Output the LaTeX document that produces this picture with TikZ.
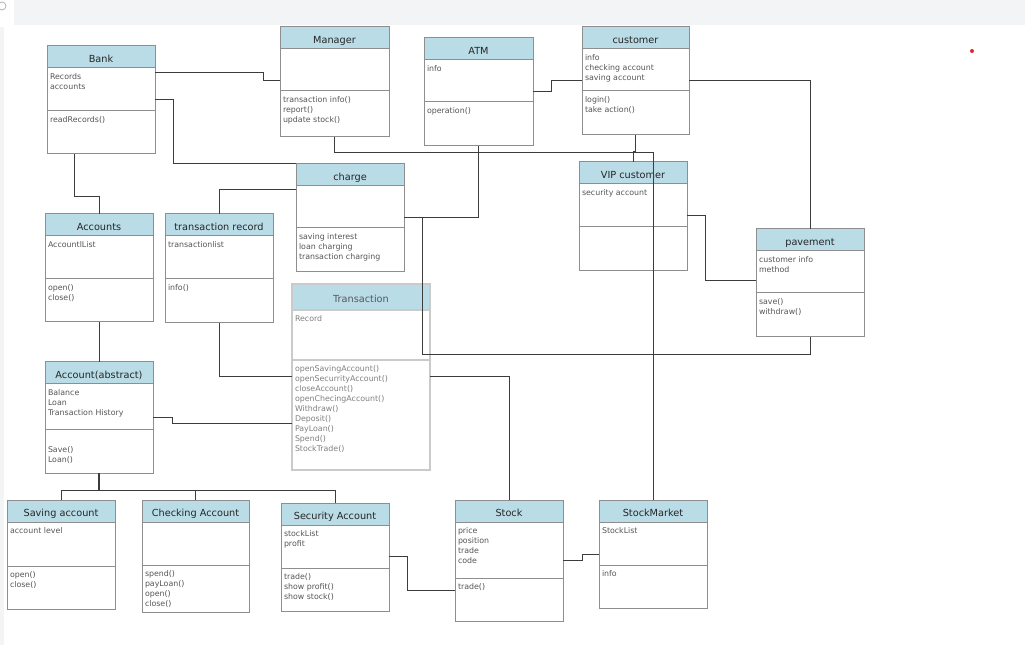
\documentclass[tikz,border=0pt]{standalone}
\usepackage{fontspec}
\setmainfont{DejaVu Sans}
\definecolor{headblue}{HTML}{B9DCE7}
\definecolor{boxgray}{HTML}{8E8E8E}
\definecolor{textgray}{HTML}{555555}
\definecolor{linegray}{HTML}{3C3C3C}
\definecolor{barback}{HTML}{F3F4F6}
\definecolor{fadegray}{HTML}{CACACA}
\definecolor{dotred}{HTML}{E0282A}
\newcommand{\pxu}{0.75pt}
% one class: name, top left, width, attribute height, method height, title, attributes, methods
\newcommand{\umlclass}[8]{%
  \node[classhead, minimum width=#3*\pxu] (#1) at (#2) {#6};
  \node[classpart, minimum width=#3*\pxu, minimum height=#4*\pxu] (#1-a) at (#1.south west)
    {\parbox[t][\dimexpr\pxu*(#4-12)\relax][t]{\dimexpr\pxu*(#3-6)\relax}{#7}};
  \node[classpart, minimum width=#3*\pxu, minimum height=#5*\pxu] (#1-o) at (#1-a.south west)
    {\parbox[t][\dimexpr\pxu*(#5-12)\relax][t]{\dimexpr\pxu*(#3-6)\relax}{#8}};
}

\begin{document}
\begin{tikzpicture}[x=\pxu, y=-\pxu,
    classhead/.style={draw=boxgray, fill=headblue, line width=0.75pt, anchor=north west,
      outer sep=0pt, inner sep=0pt, minimum height=22*\pxu, text height=0.9em, text depth=0.1em,
      font=\fontsize{7.3}{9}\selectfont, text=black!85},
    classpart/.style={draw=boxgray, fill=white, line width=0.75pt, anchor=north west,
      outer sep=0pt, inner xsep=3*\pxu, inner ysep=6*\pxu,
      font=\fontsize{5.9}{7.5}\selectfont, text=textgray},
    fadebox/.style={draw=fadegray, line width=1.2pt},
    link/.style={draw=linegray, line width=0.75pt}]
    % Page frame
    \useasboundingbox (0,0) rectangle (1025,645);
    \fill[barback] (14,0) rectangle (1025,25);
    \fill[barback] (0,27) rectangle (4,645);
    \draw[gray!70, line width=0.5pt] (2,6) circle (3pt);
    \fill[dotred] (972,51) circle (1.5pt);
    % Draw the classes
    \umlclass{bank}{47,46}{108}{43}{43}{Bank}{Records\\accounts}{readRecords()}
    \umlclass{manager}{280,27}{109}{42}{46}{Manager}{}{transaction info()\\report()\\update stock()}
    \umlclass{atm}{424,38}{109}{42}{44}{ATM}{info}{operation()}
    \umlclass{customer}{582,27}{107}{42}{44}{customer}{info\\checking account\\saving account}{login()\\take action()}
    \umlclass{charge}{296,164}{108}{42}{44}{charge}{}{saving interest\\loan charging\\transaction charging}
    \umlclass{vip}{579,162}{108}{43}{44}{VIP customer}{security account}{}
    \umlclass{accounts}{45,214}{108}{43}{43}{Accounts}{AccountlList}{open()\\close()}
    \umlclass{transrec}{165,214}{108}{43}{44}{transaction record}{transactionlist}{info()}
    \umlclass{accabs}{45,362}{108}{45}{44}{Account(abstract)}{Balance\\Loan\\Transaction History}{\strut\\Save()\\Loan()}
    \umlclass{saving}{7,500}{108}{44}{43}{Saving account}{account level}{open()\\close()}
    \umlclass{checking}{142,500}{107}{43}{47}{Checking Account}{}{spend()\\payLoan()\\open()\\close()}
    \umlclass{security}{281,503}{108}{43}{43}{Security Account}{stockList\\profit}{trade()\\show profit()\\show stock()}
    \umlclass{stock}{455,500}{108}{56}{43}{Stock}{price\\position\\trade\\code}{trade()}
    \umlclass{market}{599,500}{108}{43}{43}{StockMarket}{StockList}{info}
    \umlclass{pavement}{756,229}{108}{42}{44}{pavement}{customer info\\method}{save()\\withdraw()}
    % Transaction class, drawn lighter
    \node[classhead, fadebox, minimum width=138*\pxu, minimum height=26*\pxu, text=black!65] (trans) at (292,284) {Transaction};
    \node[classpart, fadebox, minimum width=138*\pxu, minimum height=50*\pxu, text=black!50] (trans-a) at (trans.south west)
      {\parbox[t][\dimexpr\pxu*38\relax][t]{\dimexpr\pxu*132\relax}{Record}};
    \node[classpart, fadebox, minimum width=138*\pxu, minimum height=110*\pxu, text=black!50] (trans-o) at (trans-a.south west)
      {\parbox[t][\dimexpr\pxu*98\relax][t]{\dimexpr\pxu*132\relax}{openSavingAccount()\\openSecurrityAccount()\\closeAccount()\\openChecingAccount()\\Withdraw()\\Deposit()\\PayLoan()\\Spend()\\StockTrade()}};
    % Connect the classes
    \draw[link] (bank-a.east |- 0,73) -| (263,81) -- (manager-a.west |- 0,81);
    \draw[link] (bank-a.east |- 0,100) -| (173,164) -- (charge.west |- 0,164);
    \draw[link] (bank-o.south -| 74,0) |- (99,197) -- (accounts.north);
    \draw[link] (accounts-o.south) -- (accabs.north);
    \draw[link] (transrec.north) |- (charge-a.west |- 0,190);
    \draw[link] (transrec-o.south) |- (trans-o.west |- 0,377);
    \draw[link] (accabs-a.east |- 0,417) -| (172,423) -- (trans-o.west |- 0,423);
    \draw[link] (trans-o.east |- 0,377) -| (stock.north);
    \draw[link] (charge-a.east |- 0,218) -| (atm-o.south);
    \draw[link] (charge-a.east |- 0,218) -| (422,355) -| (pavement-o.south);
    \draw[link] (manager-o.south) |- (market.north |- 0,153) -- (market.north);
    \draw[link] (customer-o.south) -- (customer-o.south |- 0,152) -| (vip.north);
    \draw[link] (atm-a.east |- 0,92) -| (551,81) -- (customer-a.west |- 0,81);
    \draw[link] (customer-a.east |- 0,81) -| (pavement.north);
    \draw[link] (vip-a.east |- 0,216) -| (705,281) -- (pavement-a.west |- 0,281);
    \draw[link] (security-a.east |- 0,556) -| (407,590) -- (stock-o.west |- 0,590);
    \draw[link] (stock-a.east |- 0,560) -| (582,554) -- (market-a.west |- 0,554);
    % Subclasses of Account(abstract)
    \draw[link, line width=1.3pt] (accabs-o.south) -- (accabs-o.south |- 0,490);
    \draw[link] (saving.north |- 0,490) -- (security.north |- 0,490);
    \foreach \cls in {saving,checking,security}{
      \draw[link] (\cls.north) -- (\cls.north |- 0,490);
    }
\end{tikzpicture}
\end{document}
